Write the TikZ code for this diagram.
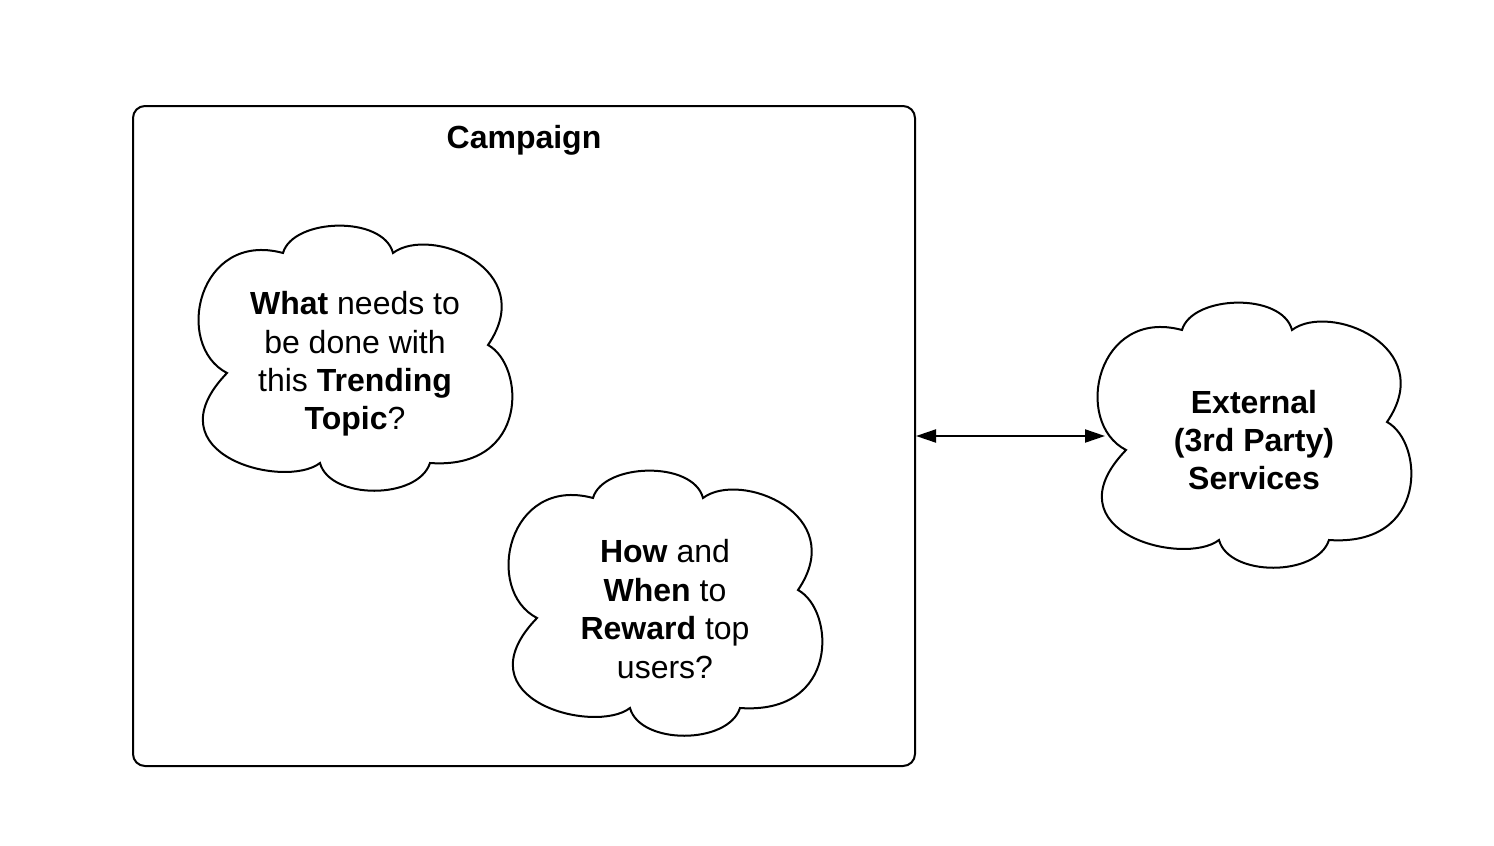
\documentclass[tikz,border=0pt]{standalone}
\usepackage{fontspec}
\setmainfont{Liberation Sans}
\usepackage{tikz}
\usetikzlibrary{arrows.meta}

\begin{document}
\begin{tikzpicture}[x=0.5pt, y=-0.5pt, line width=1pt,
    cloudtext/.style={align=center, font=\fontsize{16}{19.2}\selectfont},
    thoughtcloud/.pic={
        \draw (-72,-106) .. controls (-62,-141) and (28,-144) .. (38,-106)
            .. controls (75,-134) and (185,-90) .. (133,-14)
            .. controls (170,6) and (175,111) .. (75,104)
            .. controls (63,141) and (-25,141) .. (-35,104)
            .. controls (-70,131) and (-207,96) .. (-128,14)
            .. controls (-182,-14) and (-157,-129) .. cycle;
    }]
    \useasboundingbox (0,0) rectangle (1494,846);

    \node[draw, rounded corners=6pt, minimum width=391pt, minimum height=330pt] (campaign) at (524,436) {};
    \node[cloudtext] (title) at (524,140) {\textbf{Campaign}};

    \pic at (355,359) {thoughtcloud};
    \node[cloudtext] (trending) at (355,364) {\textbf{What} needs to\\be done with\\this \textbf{Trending}\\\textbf{Topic}?};

    \pic at (665,604) {thoughtcloud};
    \node[cloudtext] (reward) at (665,609) {\textbf{How} and\\\textbf{When} to\\\textbf{Reward} top\\users?};

    \pic at (1254,436) {thoughtcloud};
    \node[cloudtext] (external) at (1254,440) {\textbf{External}\\\textbf{(3rd Party)}\\\textbf{Services}};
    \coordinate (extL) at (1105,436);

    \draw[{Triangle[length=10pt,width=6.5pt]}-{Triangle[length=10pt,width=6.5pt]}] (campaign.east) -- (extL);
\end{tikzpicture}
\end{document}
